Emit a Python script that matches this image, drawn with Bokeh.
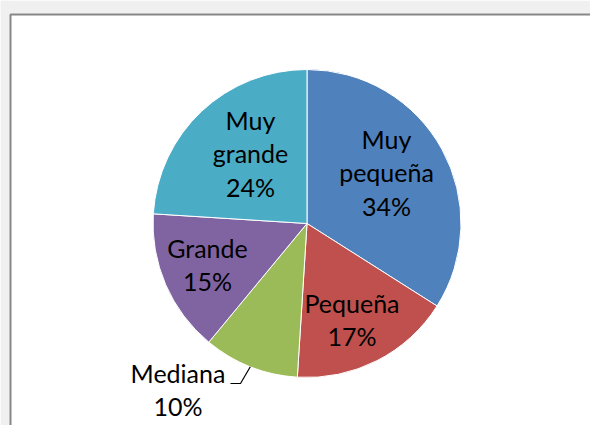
import math
from bokeh.plotting import figure
from bokeh.models import Range1d, ColumnDataSource
from bokeh.core.properties import value
from bokeh.embed import file_html
from bokeh.resources import INLINE

# ---- data ----
categories = ["Muy pequeña", "Pequeña", "Mediana", "Grande", "Muy grande"]
label_text = ["Muy\npequeña\n34%", "Pequeña\n17%", "Mediana\n10%", "Grande\n15%", "Muy\ngrande\n24%"]
percents = [34, 17, 10, 15, 24]
colors = ["#4F81BD", "#C0504D", "#9BBB59", "#8064A2", "#4BACC6"]

# ---- layout (page pixel coords) ----
W, H = 590, 425
CX, CY, R = 306.5, 223.0, 154.0
label_pos = [(386, 172), (351.5, 319), (177.5, 389), (207, 264), (250, 153)]
FONT = "Lato"

p = figure(width=W, height=H, output_backend="svg", toolbar_location=None,
           x_range=Range1d(0, W), y_range=Range1d(-H, 0),
           min_border=0, min_border_left=0, min_border_right=0,
           min_border_top=0, min_border_bottom=0)
p.axis.visible = False
p.grid.visible = False
p.outline_line_color = None
p.background_fill_color = "white"
p.border_fill_color = "#f0f0f0"

# gray surroundings and chart-area frame
p.quad(left=[0, 0], right=[W, 9], top=[0, 0], bottom=[-13, -H],
       fill_color="#f0f0f0", line_color=None)
p.line(x=[10, 10, W], y=[-H, -14, -14], line_color="#868686", line_width=2)

# pie wedges
total = float(sum(percents))
starts, ends, mids = [], [], []
acc = 0.0
for v in percents:
    a0 = acc / total
    acc += v
    a1 = acc / total
    starts.append(math.pi / 2 - a0 * 2 * math.pi)
    ends.append(math.pi / 2 - a1 * 2 * math.pi)
    mids.append((a0 + a1) / 2 * 2 * math.pi)

src = ColumnDataSource(dict(x=[CX] * len(percents), y=[-CY] * len(percents),
                            start=starts, end=ends, color=colors, cat=categories))
p.wedge(x="x", y="y", radius=R, start_angle="start", end_angle="end",
        direction="clock", fill_color="color", line_color="white", line_width=1,
        source=src)

# leader line for "Mediana"
mi = categories.index("Mediana")
ex = CX + R * math.sin(mids[mi])
ey = CY - R * math.cos(mids[mi])
p.line(x=[230, 240, ex], y=[-383, -383, -ey], line_color="black", line_width=1.2)

# labels
lsrc = ColumnDataSource(dict(x=[q[0] for q in label_pos], y=[-q[1] for q in label_pos],
                             t=label_text))
p.text(x="x", y="y", text="t", source=lsrc, text_align="center",
       text_baseline="middle", text_font=value(FONT), text_font_size="25px",
       text_color="black", text_line_height=1.12)

open("out.html", "w").write(file_html(p, INLINE))
